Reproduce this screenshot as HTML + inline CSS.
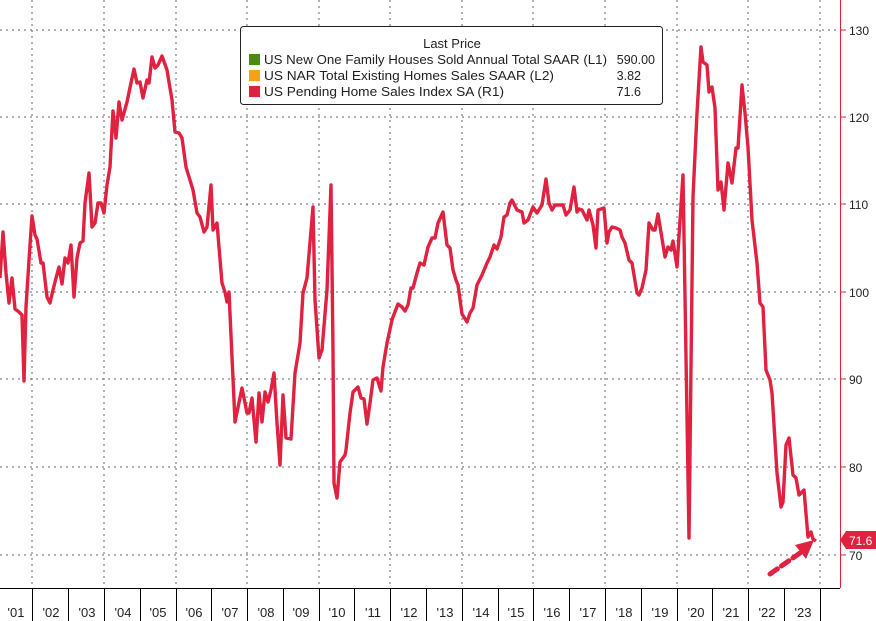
<!DOCTYPE html>
<html><head><meta charset="utf-8"><style>
html,body{margin:0;padding:0;background:#fff;}
svg{display:block;font-family:"Liberation Sans",sans-serif;}
</style></head><body>
<svg width="876" height="621" viewBox="0 0 876 621" xmlns="http://www.w3.org/2000/svg">
<rect width="876" height="621" fill="#fff"/>
<g stroke="#666" stroke-width="1" stroke-dasharray="2,4" fill="none">
<line x1="0" y1="30" x2="840" y2="30"/>
<line x1="0" y1="117" x2="840" y2="117"/>
<line x1="0" y1="204" x2="840" y2="204"/>
<line x1="0" y1="292" x2="840" y2="292"/>
<line x1="0" y1="379" x2="840" y2="379"/>
<line x1="0" y1="467" x2="840" y2="467"/>
<line x1="0" y1="555" x2="840" y2="555"/>
<line x1="32" y1="0" x2="32" y2="588"/>
<line x1="104" y1="0" x2="104" y2="588"/>
<line x1="176" y1="0" x2="176" y2="588"/>
<line x1="247" y1="0" x2="247" y2="588"/>
<line x1="319" y1="0" x2="319" y2="588"/>
<line x1="390" y1="0" x2="390" y2="588"/>
<line x1="462" y1="0" x2="462" y2="588"/>
<line x1="533" y1="0" x2="533" y2="588"/>
<line x1="605" y1="0" x2="605" y2="588"/>
<line x1="677" y1="0" x2="677" y2="588"/>
<line x1="748" y1="0" x2="748" y2="588"/>
<line x1="820" y1="0" x2="820" y2="588"/>
</g>
<line x1="0" y1="588.5" x2="840" y2="588.5" stroke="#000" stroke-width="1"/>
<g stroke="#000" stroke-width="1">
<line x1="32.5" y1="588" x2="32.5" y2="621"/><line x1="68.5" y1="588" x2="68.5" y2="621"/>
<line x1="104.5" y1="588" x2="104.5" y2="621"/><line x1="140.5" y1="588" x2="140.5" y2="621"/>
<line x1="176.5" y1="588" x2="176.5" y2="621"/><line x1="211.5" y1="588" x2="211.5" y2="621"/>
<line x1="247.5" y1="588" x2="247.5" y2="621"/><line x1="283.5" y1="588" x2="283.5" y2="621"/>
<line x1="319.5" y1="588" x2="319.5" y2="621"/><line x1="354.5" y1="588" x2="354.5" y2="621"/>
<line x1="390.5" y1="588" x2="390.5" y2="621"/><line x1="426.5" y1="588" x2="426.5" y2="621"/>
<line x1="462.5" y1="588" x2="462.5" y2="621"/><line x1="498.5" y1="588" x2="498.5" y2="621"/>
<line x1="533.5" y1="588" x2="533.5" y2="621"/><line x1="569.5" y1="588" x2="569.5" y2="621"/>
<line x1="605.5" y1="588" x2="605.5" y2="621"/><line x1="641.5" y1="588" x2="641.5" y2="621"/>
<line x1="677.5" y1="588" x2="677.5" y2="621"/><line x1="712.5" y1="588" x2="712.5" y2="621"/>
<line x1="748.5" y1="588" x2="748.5" y2="621"/><line x1="784.5" y1="588" x2="784.5" y2="621"/>
<line x1="820.5" y1="588" x2="820.5" y2="621"/>
</g>
<g font-size="13" fill="#222" text-anchor="middle">
<text x="16" y="617">'01</text><text x="51" y="617">'02</text><text x="87" y="617">'03</text>
<text x="123" y="617">'04</text><text x="158" y="617">'05</text><text x="194" y="617">'06</text>
<text x="230" y="617">'07</text><text x="266" y="617">'08</text><text x="301" y="617">'09</text>
<text x="337" y="617">'10</text><text x="373" y="617">'11</text><text x="409" y="617">'12</text>
<text x="445" y="617">'13</text><text x="481" y="617">'14</text><text x="516" y="617">'15</text>
<text x="552" y="617">'16</text><text x="588" y="617">'17</text><text x="624" y="617">'18</text>
<text x="660" y="617">'19</text><text x="696" y="617">'20</text><text x="731" y="617">'21</text>
<text x="767" y="617">'22</text><text x="803" y="617">'23</text>
</g>
<line x1="840.5" y1="0" x2="840.5" y2="588" stroke="#d23" stroke-width="1"/>
<g stroke="#d23" stroke-width="1">
<line x1="840" y1="30" x2="846" y2="30"/><line x1="840" y1="117" x2="846" y2="117"/>
<line x1="840" y1="204" x2="846" y2="204"/><line x1="840" y1="292" x2="846" y2="292"/>
<line x1="840" y1="379" x2="846" y2="379"/><line x1="840" y1="467" x2="846" y2="467"/>
<line x1="840" y1="555" x2="846" y2="555"/>
</g>
<g font-size="12" fill="#222">
<text x="849" y="35">130</text><text x="849" y="122">120</text><text x="849" y="209">110</text>
<text x="849" y="297">100</text><text x="849" y="384">90</text><text x="849" y="472">80</text>
<text x="849" y="560">70</text>
</g>
<polyline fill="none" stroke="#e0213f" stroke-width="3.4" stroke-linejoin="round" points="
0,278 3,232 6,273 9,303 12,278 15,309 19,312 22,315 24,381 26,307 29,260 32,216 35,235 37,239 41,263 43,263 47,297 50,303 53,290 56,278 59,267 62,284 65,258 68,263 71,245 74,297 77,258 80,243 83,241 85,203 89,173 92,227 95,223 98,203 101,203 104,213 107,185 110,167 113,111 116,138 119,102 122,120 127,102 131,83 134,69 137,83 140,82 143,98 147,80 149,83 152,57 155,68 158,65 162,56 167,70 172,100 175,132 179,133 182,138 186,167 193,190 197,213 200,217 204,232 207,227 211,185 213,230 217,223 222,283 225,292 227,302 229,292 235,422 242,388 247,413 249,413 252,398 256,442 259,393 262,422 265,392 268,402 271,390 274,373 277,423 280,465 283,395 286,438 291,439 295,373 300,343 303,293 307,278 313,207 315,300 319,358 322,350 327,290 331,185 333,350 334,483 337,498 340,462 345,455 346,450 350,413 353,392 358,387 361,398 364,399 367,424 370,403 373,380 377,378 381,391 383,367 387,343 392,320 393,317 398,304 402,307 405,311 408,305 411,288 413,288 417,273 420,263 424,265 428,247 432,238 435,238 438,223 443,212 447,245 450,248 453,270 456,280 458,285 462,314 467,322 470,313 473,308 477,285 482,275 487,263 490,257 494,245 497,249 501,237 504,217 507,215 510,203 512,200 517,210 522,212 524,223 528,220 533,207 537,213 542,205 546,179 549,203 552,210 555,205 563,205 566,215 570,210 574,187 577,212 579,209 582,210 587,220 589,210 593,225 596,248 598,210 604,208 607,243 609,232 612,227 616,228 620,230 622,237 625,243 629,260 632,263 637,293 639,295 642,288 646,270 649,223 653,230 655,230 658,214 665,257 668,247 671,250 673,241 677,267 683,175 689,538 693,197 697,113 701,47 703,62 707,65 709,92 712,87 715,108 718,190 721,182 724,210 728,163 732,183 736,148 738,148 742,85 745,113 748,147 752,220 757,263 760,303 763,307 766,370 770,380 772,393 777,473 781,507 783,502 786,445 789,438 793,475 796,478 799,495 804,490 808,537 811,532 813,539 816,541"/>
<line x1="770" y1="574" x2="800" y2="553" stroke="#e0213f" stroke-width="5" stroke-dasharray="9,5" stroke-linecap="round"/>
<polygon points="814,540 795,545 806,559" fill="#e0213f"/>
<polygon points="840,540 846,531 876,531 876,549 846,549" fill="#e0213f"/>
<text x="849" y="545" font-size="12" fill="#fff">71.6</text>
<rect x="240.5" y="26.5" width="422" height="78" rx="3" fill="#fff" stroke="#222" stroke-width="1"/>
<text x="452" y="48" font-size="13" fill="#222" text-anchor="middle">Last Price</text>
<rect x="249" y="54" width="11" height="11" fill="#4f8a10"/>
<rect x="249" y="70" width="11" height="11" fill="#f5a21b"/>
<rect x="249" y="86" width="11" height="11" fill="#e0213f"/>
<g font-size="12.5" fill="#222">
<text x="264" y="64" textLength="343" lengthAdjust="spacingAndGlyphs">US New One Family Houses Sold Annual Total SAAR  (L1)</text>
<text x="264" y="80" textLength="290" lengthAdjust="spacingAndGlyphs">US NAR Total Existing Homes Sales SAAR  (L2)</text>
<text x="264" y="96" textLength="240" lengthAdjust="spacingAndGlyphs">US Pending Home Sales Index SA  (R1)</text>
<text x="655" y="64" text-anchor="end">590.00</text>
<text x="641" y="80" text-anchor="end">3.82</text>
<text x="641" y="96" text-anchor="end">71.6</text>
</g>
</svg>
</body></html>
